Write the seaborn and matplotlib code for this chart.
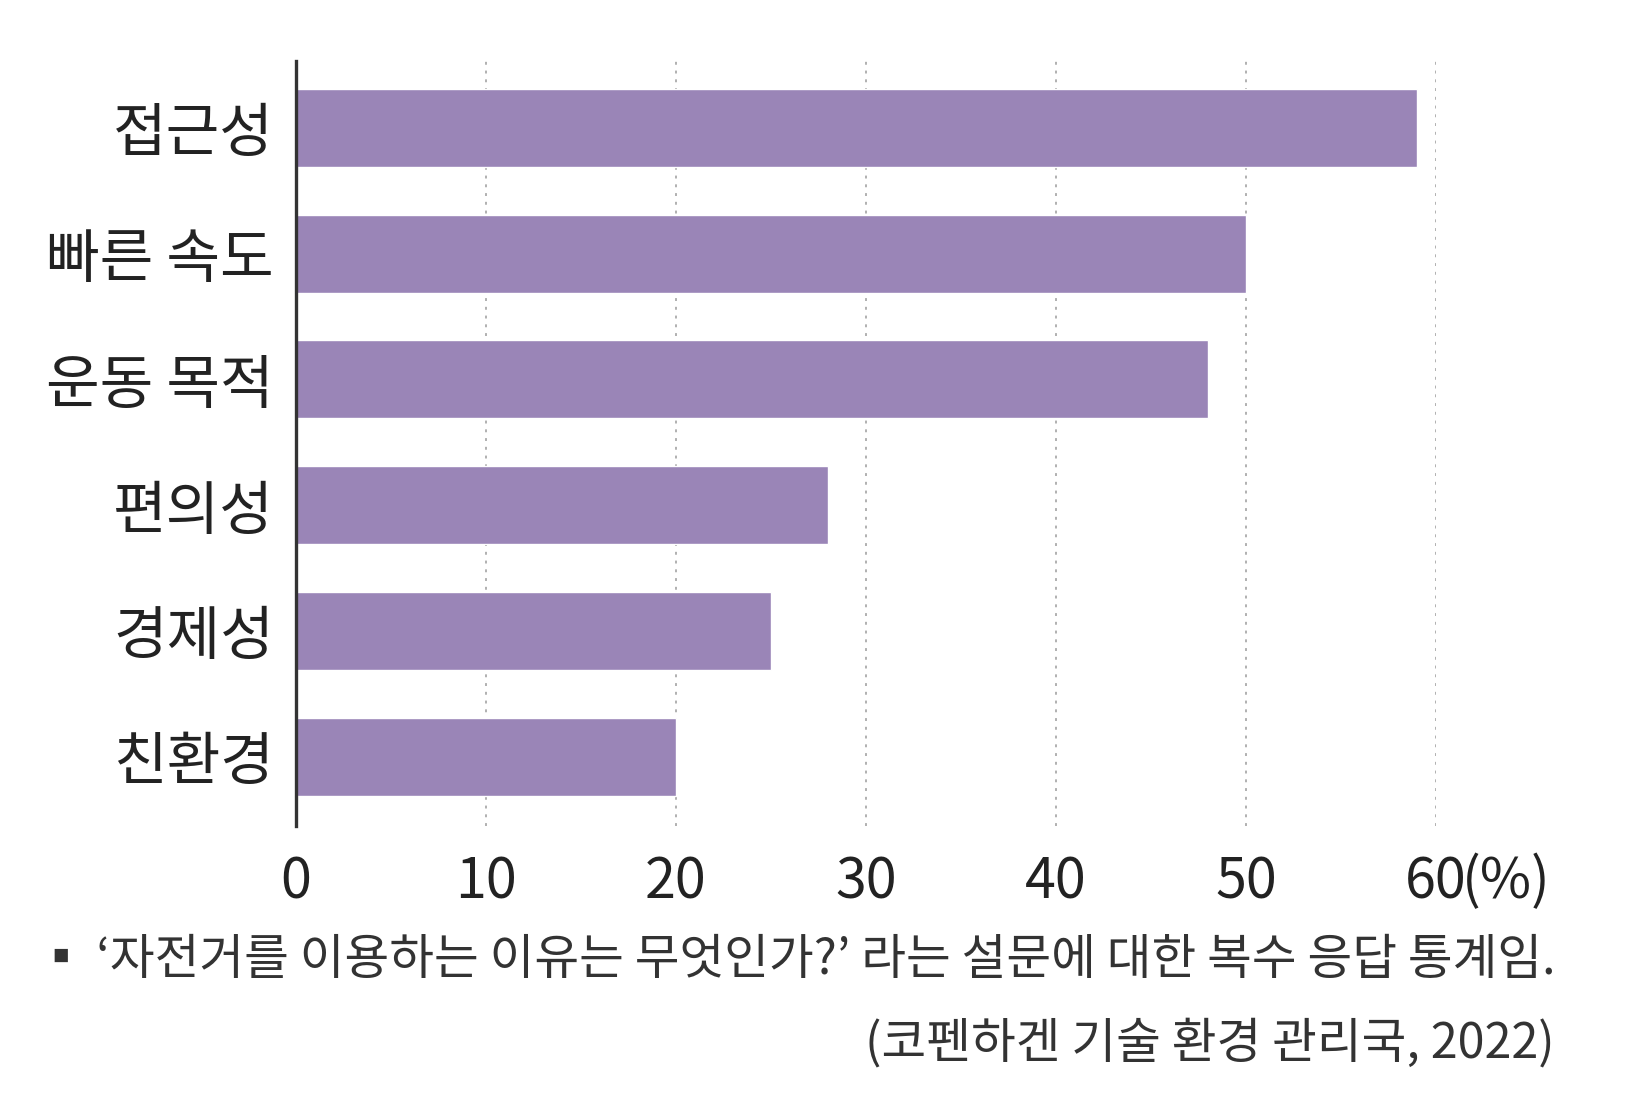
import matplotlib
matplotlib.use("Agg")
import matplotlib.pyplot as plt
import seaborn as sns

# 자전거 이용 이유 (복수 응답, %)
categories = ['접근성', '빠른 속도', '운동 목적', '편의성', '경제성', '친환경']
values = [59, 50, 48, 28, 25, 20]
x_ticks = [0, 10, 20, 30, 40, 50, 60]
x_tick_labels = ['0', '10', '20', '30', '40', '50', '60']
unit_label = '(%)'
note_line1 = '▪ ‘자전거를 이용하는 이유는 무엇인가?’ 라는 설문에 대한 복수 응답 통계임.'
note_line2 = '(코펜하겐 기술 환경 관리국, 2022)'

sns.set_theme(style='white')
plt.rcParams['font.family'] = ['Noto Sans CJK KR', 'DejaVu Sans']
plt.rcParams['axes.unicode_minus'] = False

bar_color = '#9a85b7'
text_color = '#222222'

fig = plt.figure(figsize=(16.49, 10.99), dpi=100)
ax = fig.add_axes([0.1795, 0.2484, 0.6913, 0.6961])

sns.barplot(x=values, y=categories, orient='h', color=bar_color,
            saturation=1, width=0.62, ax=ax, zorder=3)

ax.set_xlim(0, 60)
ax.set_ylim(5.55, -0.53)
ax.set_xticks(x_ticks)
ax.set_xticklabels(x_tick_labels)
ax.set_xlabel('')
ax.set_ylabel('')

# 점선 격자
for t in x_ticks[1:]:
    ax.axvline(t, color='#b0b0b0', linestyle=(0, (1.5, 3)), linewidth=1.4, zorder=1)

for side in ['top', 'right', 'bottom']:
    ax.spines[side].set_visible(False)
ax.spines['left'].set_color('#333333')
ax.spines['left'].set_linewidth(2.4)
ax.spines['left'].set_zorder(4)

ax.tick_params(axis='x', length=0, pad=20, labelsize=40, labelcolor=text_color)
ax.tick_params(axis='y', length=0, pad=16, labelsize=42, labelcolor=text_color)

# 단위 표시
ax.annotate(unit_label, xy=(60, 0), xycoords=('data', 'axes fraction'),
            xytext=(19, -20), textcoords='offset points',
            ha='left', va='top', fontsize=40, color=text_color)

# 주석
fig.text(0.943, 0.126, note_line1, ha='right', va='center',
         fontsize=35, color='#333333')
fig.text(0.943, 0.050, note_line2, ha='right', va='center',
         fontsize=35, color='#333333')

fig.savefig('out.png', dpi=100)
